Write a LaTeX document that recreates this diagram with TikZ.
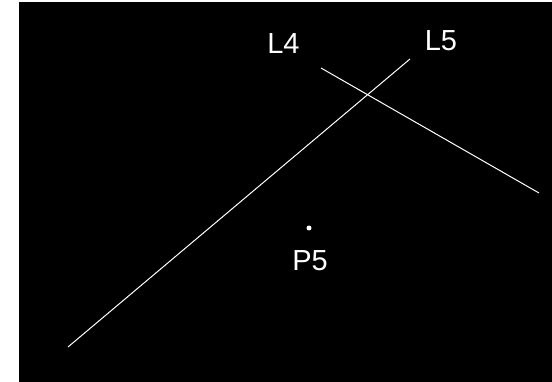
\documentclass[tikz,border=0pt]{standalone}
\usepackage{fontspec}
\setmainfont{Liberation Sans}
\usepackage{tikz}
\usetikzlibrary{positioning}

\begin{document}
\begin{tikzpicture}[
  x=1pt, y=-1pt,
  seg/.style={draw=white, line width=1pt},
  lbl/.style={text=white, font=\fontsize{29}{30}\selectfont, inner sep=0pt},
  pt/.style={circle, fill=white, inner sep=0pt, minimum size=5pt}
]
\useasboundingbox (0,0) rectangle (552,382);
\fill[white] (0,0) rectangle (552,382);
\fill[black] (19,2) rectangle (552,382);
% line ends
\coordinate (l4a) at (321,68);
\coordinate (l4b) at (539,193);
\coordinate (l5a) at (68,347);
\coordinate (l5b) at (410,59);
\draw[seg] (l4a) -- (l4b);
\draw[seg] (l5a) -- (l5b);
\node[lbl] (l4) at (283.5,43.5) {L4};
\node[lbl] (l5) at (441,41) {L5};
\node[pt] (p5) at (309,228) {};
\node[lbl] (p5lbl) at (310,261) {P5};
\end{tikzpicture}
\end{document}
